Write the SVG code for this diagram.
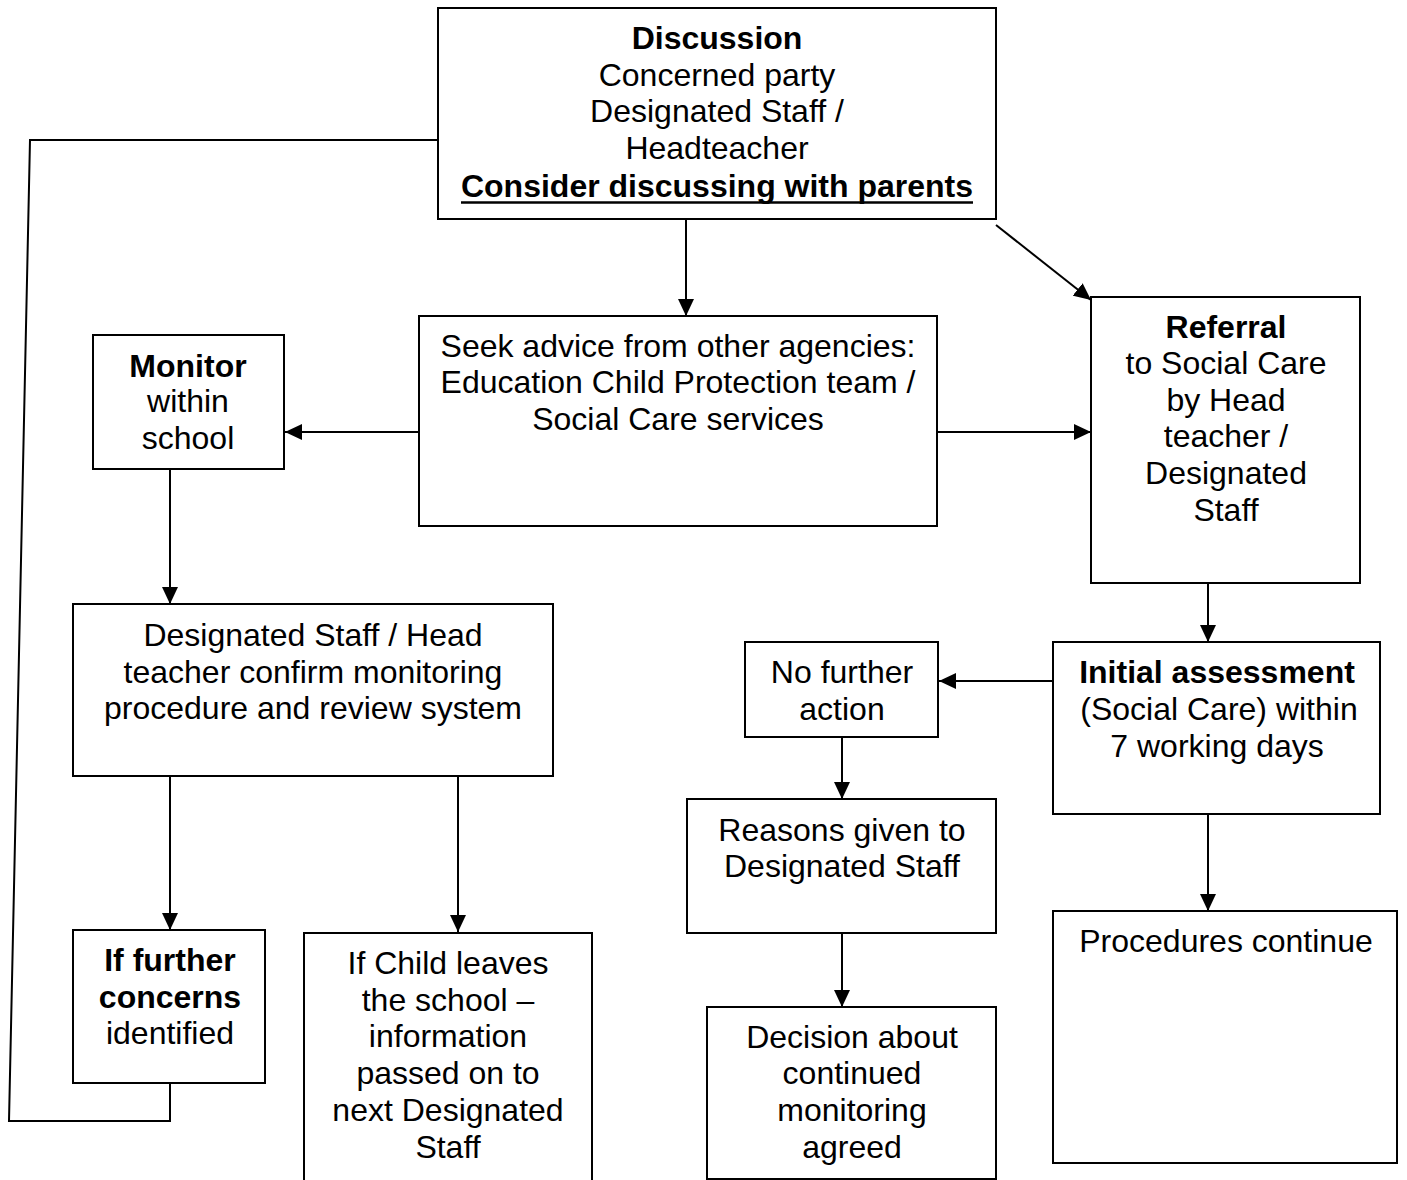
<svg xmlns="http://www.w3.org/2000/svg" width="1407" height="1180" viewBox="0 0 1407 1180">
<style>
.box{fill:#fff;stroke:#000;stroke-width:2}
.t{font-family:"Liberation Sans",Arial,sans-serif;font-size:32px;fill:#000;text-anchor:middle}
.b{font-weight:bold}
.c{fill:none;stroke:#000;stroke-width:2}
</style>
<defs>
<marker id="ah" markerUnits="userSpaceOnUse" markerWidth="18" markerHeight="16" refX="17" refY="8" orient="auto">
<path d="M0,0 L17,8 L0,16 Z" fill="#000"/>
</marker>
</defs>
<rect width="1407" height="1180" fill="#fff"/>
<g id="connectors">
<polyline class="c" points="438,140 30,140 9,1121 170,1121 170,1083"/>
<line class="c" x1="686" y1="219" x2="686" y2="316" marker-end="url(#ah)"/>
<line class="c" x1="996" y1="225" x2="1091" y2="300" marker-end="url(#ah)"/>
<line class="c" x1="419" y1="432" x2="285" y2="432" marker-end="url(#ah)"/>
<line class="c" x1="937" y1="432" x2="1091" y2="432" marker-end="url(#ah)"/>
<line class="c" x1="1208" y1="583" x2="1208" y2="642" marker-end="url(#ah)"/>
<line class="c" x1="1053" y1="681" x2="939" y2="681" marker-end="url(#ah)"/>
<line class="c" x1="842" y1="737" x2="842" y2="799" marker-end="url(#ah)"/>
<line class="c" x1="842" y1="929" x2="842" y2="1007" marker-end="url(#ah)"/>
<line class="c" x1="1208" y1="814" x2="1208" y2="911" marker-end="url(#ah)"/>
<line class="c" x1="170" y1="469" x2="170" y2="604" marker-end="url(#ah)"/>
<line class="c" x1="170" y1="776" x2="170" y2="930" marker-end="url(#ah)"/>
<line class="c" x1="458" y1="776" x2="458" y2="932" marker-end="url(#ah)"/>
</g>
<g id="discussion">
<rect class="box" x="438" y="8" width="558" height="211"/>
<text class="t b" x="717" y="49">Discussion</text>
<text class="t" x="717" y="86">Concerned party</text>
<text class="t" x="717" y="122">Designated Staff /</text>
<text class="t" x="717" y="159">Headteacher</text>
<text class="t b" x="717" y="197">Consider discussing with parents</text>
<line x1="461" y1="202.5" x2="973" y2="202.5" stroke="#000" stroke-width="2.5"/>
</g>
<g id="seek-advice">
<rect class="box" x="419" y="316" width="518" height="210"/>
<text class="t" x="678" y="357">Seek advice from other agencies:</text>
<text class="t" x="678" y="393">Education Child Protection team /</text>
<text class="t" x="678" y="430">Social Care services</text>
</g>
<g id="monitor">
<rect class="box" x="93" y="335" width="191" height="134"/>
<text class="t b" x="188" y="377">Monitor</text>
<text class="t" x="188" y="412">within</text>
<text class="t" x="188" y="449">school</text>
</g>
<g id="referral">
<rect class="box" x="1091" y="297" width="269" height="286"/>
<text class="t b" x="1226" y="338">Referral</text>
<text class="t" x="1226" y="374">to Social Care</text>
<text class="t" x="1226" y="411">by Head</text>
<text class="t" x="1226" y="447">teacher /</text>
<text class="t" x="1226" y="484">Designated</text>
<text class="t" x="1226" y="521">Staff</text>
</g>
<g id="initial-assessment">
<rect class="box" x="1053" y="642" width="327" height="172"/>
<text class="t b" x="1217" y="683">Initial assessment</text>
<text class="t" x="1219" y="720">(Social Care) within</text>
<text class="t" x="1217" y="757">7 working days</text>
</g>
<g id="no-further-action">
<rect class="box" x="745" y="642" width="193" height="95"/>
<text class="t" x="842" y="683">No further</text>
<text class="t" x="842" y="720">action</text>
</g>
<g id="reasons">
<rect class="box" x="687" y="799" width="309" height="134"/>
<text class="t" x="842" y="841">Reasons given to</text>
<text class="t" x="842" y="877">Designated Staff</text>
</g>
<g id="decision">
<rect class="box" x="707" y="1007" width="289" height="172"/>
<text class="t" x="852" y="1048">Decision about</text>
<text class="t" x="852" y="1084">continued</text>
<text class="t" x="852" y="1121">monitoring</text>
<text class="t" x="852" y="1158">agreed</text>
</g>
<g id="procedures">
<rect class="box" x="1053" y="911" width="344" height="252"/>
<text class="t" x="1226" y="952">Procedures continue</text>
</g>
<g id="designated-staff">
<rect class="box" x="73" y="604" width="480" height="172"/>
<text class="t" x="313" y="646">Designated Staff / Head</text>
<text class="t" x="313" y="683">teacher confirm monitoring</text>
<text class="t" x="313" y="719">procedure and review system</text>
</g>
<g id="further-concerns">
<rect class="box" x="73" y="930" width="192" height="153"/>
<text class="t b" x="170" y="971">If further</text>
<text class="t b" x="170" y="1008">concerns</text>
<text class="t" x="170" y="1044">identified</text>
</g>
<g id="child-leaves">
<rect class="box" x="304" y="933" width="288" height="260"/>
<text class="t" x="448" y="974">If Child leaves</text>
<text class="t" x="448" y="1011">the school –</text>
<text class="t" x="448" y="1047">information</text>
<text class="t" x="448" y="1084">passed on to</text>
<text class="t" x="448" y="1121">next Designated</text>
<text class="t" x="448" y="1158">Staff</text>
</g>
</svg>
